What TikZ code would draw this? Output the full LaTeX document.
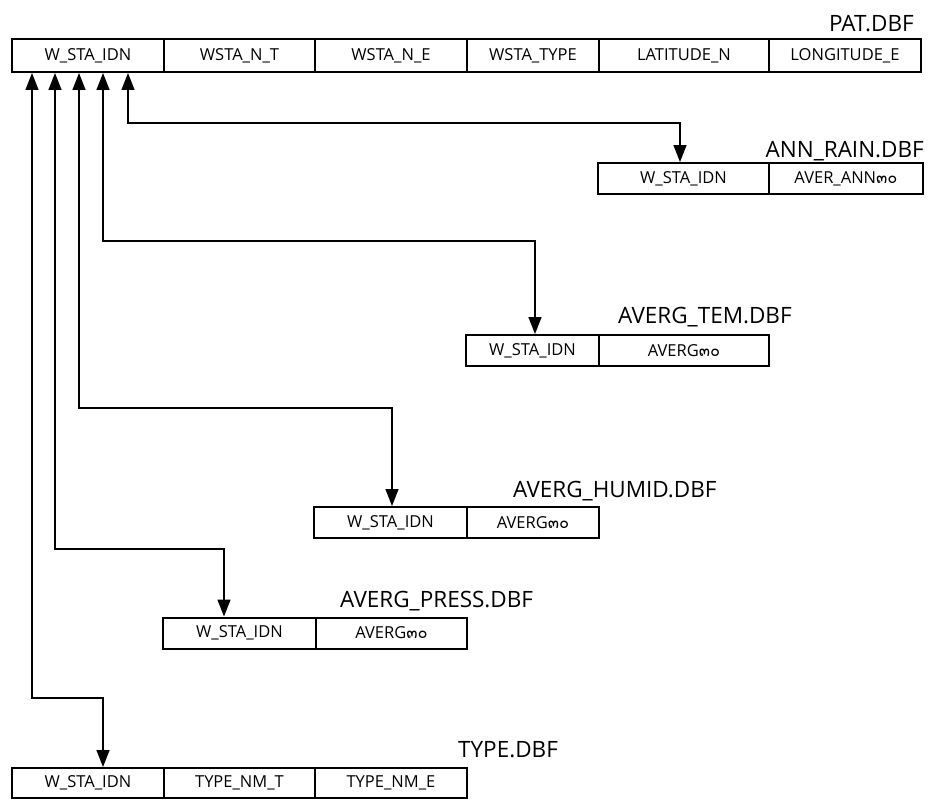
\documentclass[tikz,border=0pt]{standalone}
\usepackage{fontspec}
\setmainfont{Open Sans}
\newfontfamily\thaifont[Script=Thai]{Loma}
\usepackage{tikz}
\usetikzlibrary{arrows.meta}

\tikzset{
  cell/.style={draw, line width=2pt, minimum height=31pt, inner sep=0pt, font=\fontsize{16.5}{19}\selectfont},
  tname/.style={inner sep=0pt, font=\fontsize{22.5}{26}\selectfont},
  link/.style={<->, line width=1.6pt},
  >={Triangle[width=13pt,length=17pt]}
}

\begin{document}
\begin{tikzpicture}[x=1pt,y=-1pt]
\useasboundingbox (0,0) rectangle (932,800);

% PAT.DBF
\node[tname, anchor=base east] (patname) at (914,32) {PAT.DBF};
\node[cell, minimum width=152pt, minimum height=33pt] (patid) at (88,55.5) {W\_STA\_IDN};
\node[cell, minimum width=151pt, minimum height=33pt] (patnt) at (239.5,55.5) {WSTA\_N\_T};
\node[cell, minimum width=152pt, minimum height=33pt] (patne) at (391,55.5) {WSTA\_N\_E};
\node[cell, minimum width=132pt, minimum height=33pt] (pattype) at (533,55.5) {WSTA\_TYPE};
\node[cell, minimum width=170pt, minimum height=33pt] (patlat) at (684,55.5) {LATITUDE\_N};
\node[cell, minimum width=152pt, minimum height=33pt] (patlon) at (845,55.5) {LONGITUDE\_E};

% ANN_RAIN.DBF
\node[tname, anchor=base east] (rainname) at (924,157) {ANN\_RAIN.DBF};
\node[cell, minimum width=171pt] (rainid) at (683.5,178.5) {W\_STA\_IDN};
\node[cell, minimum width=154pt] (rainavg) at (846,178.5) {AVER\_ANN{\thaifont ๓๐}};

% AVERG_TEM.DBF
\node[tname, anchor=base west] (temname) at (618,323) {AVERG\_TEM.DBF};
\node[cell, minimum width=133pt] (temid) at (532.5,350.5) {W\_STA\_IDN};
\node[cell, minimum width=170pt] (temavg) at (684,350.5) {AVERG{\thaifont ๓๐}};

% AVERG_HUMID.DBF
\node[tname, anchor=base west] (humname) at (513,497) {AVERG\_HUMID.DBF};
\node[cell, minimum width=153pt] (humid) at (390.5,522.5) {W\_STA\_IDN};
\node[cell, minimum width=132pt] (humavg) at (533,522.5) {AVERG{\thaifont ๓๐}};

% AVERG_PRESS.DBF
\node[tname, anchor=base west] (presname) at (340,607) {AVERG\_PRESS.DBF};
\node[cell, minimum width=153pt] (presid) at (239.5,633) {W\_STA\_IDN};
\node[cell, minimum width=151pt] (presavg) at (391.5,633) {AVERG{\thaifont ๓๐}};

% TYPE.DBF
\node[tname, anchor=base west] (typename) at (458,757) {TYPE.DBF};
\node[cell, minimum width=152pt, minimum height=30pt] (typeid) at (88,783) {W\_STA\_IDN};
\node[cell, minimum width=151pt, minimum height=30pt] (typent) at (239.5,783) {TYPE\_NM\_T};
\node[cell, minimum width=152pt, minimum height=30pt] (typene) at (391,783) {TYPE\_NM\_E};

% links
\draw[link] ([xshift=40pt]patid.south) -- ++(0,50) -| ([xshift=-3.5pt]rainid.north);
\draw[link] ([xshift=15pt]patid.south) -- ++(0,168) -| ([xshift=2.5pt]temid.north);
\draw[link] ([xshift=-9pt]patid.south) -- ++(0,335) -| ([xshift=1.5pt]humid.north);
\draw[link] ([xshift=-33pt]patid.south) -- ++(0,476) -| ([xshift=-15.5pt]presid.north);
\draw[link] ([xshift=-56pt]patid.south) -- ++(0,625) -| ([xshift=15pt]typeid.north);
\end{tikzpicture}
\end{document}
